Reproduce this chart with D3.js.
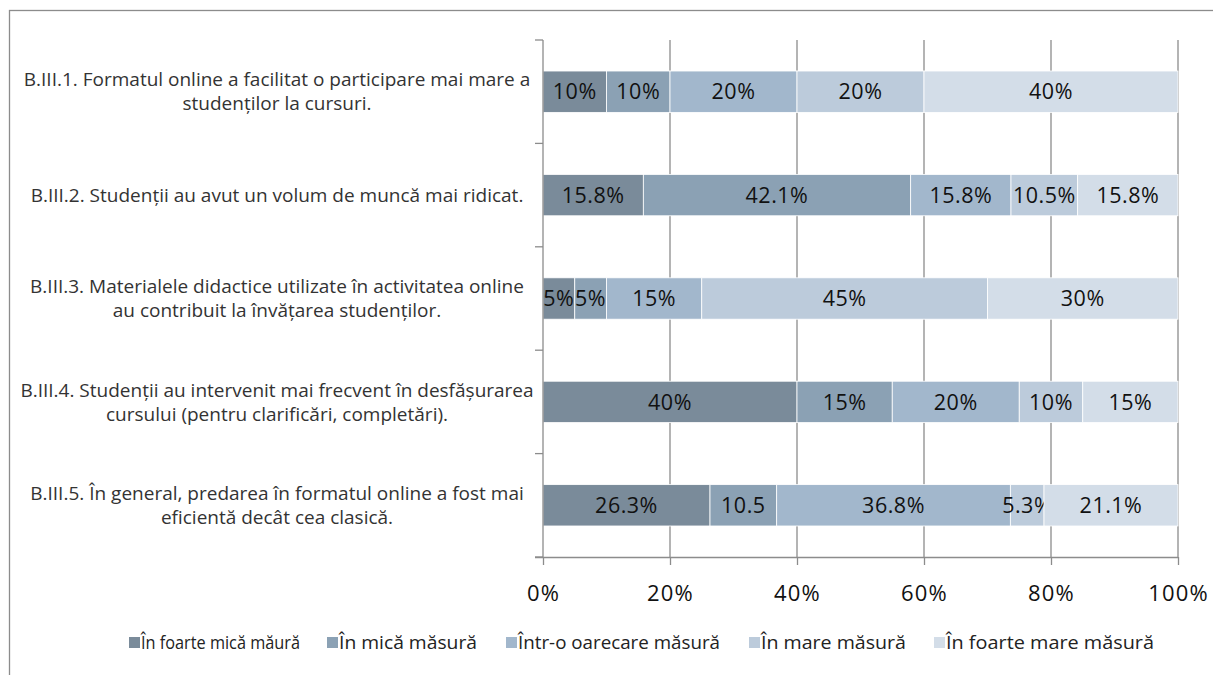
<!DOCTYPE html>
<html>
<head>
<meta charset="utf-8">
<script src="https://cdn.jsdelivr.net/npm/d3@7"></script>
<style>
  html, body { margin: 0; padding: 0; background: #fff; }
  svg { display: block; font-family: "Open Sans", Lato, sans-serif; }
</style>
</head>
<body>
<svg id="chart" width="1213" height="675"></svg>
<script>
// Survey statements (line breaks marked with \n)
const categories = [
  "B.III.1. Formatul online a facilitat o participare mai mare a\nstudenților la cursuri.",
  "B.III.2. Studenții au avut un volum de muncă mai ridicat.",
  "B.III.3. Materialele didactice utilizate în activitatea online\nau contribuit la învățarea studenților.",
  "B.III.4. Studenții au intervenit mai frecvent în desfășurarea\ncursului (pentru clarificări, completări).",
  "B.III.5. În general, predarea în formatul online a fost mai\neficientă decât cea clasică."
];

const seriesNames = [
  "În foarte mică măură",
  "În mică măsură",
  "Într-o oarecare măsură",
  "În mare măsură",
  "În foarte mare măsură"
];

// Percent of answers per statement, one array per series
const foarteMica   = [10, 15.8, 5, 40, 26.3];
const mica         = [10, 42.1, 5, 15, 10.5];
const oarecare     = [20, 15.8, 15, 20, 36.8];
const mare         = [20, 10.5, 45, 10, 5.3];
const foarteMare   = [40, 15.8, 30, 15, 21.1];

// Data label texts as printed on the bars
const labelTexts = [
  ["10%", "10%", "20%", "20%", "40%"],
  ["15.8%", "42.1%", "15.8%", "10.5%", "15.8%"],
  ["5%", "5%", "15%", "45%", "30%"],
  ["40%", "15%", "20%", "10%", "15%"],
  ["26.3%", "10.5", "36.8%", "5.3%", "21.1%"]
];

const xTicks = [0, 20, 40, 60, 80, 100];
const xTickLabels = ["0%", "20%", "40%", "60%", "80%", "100%"];

const colors = ["#7a8b9a", "#8ba1b4", "#a2b7cc", "#bccbdb", "#d3dde8"];

const seriesValues = [foarteMica, mica, oarecare, mare, foarteMare];
const rows = categories.map((c, i) => {
  const r = { key: i };
  seriesNames.forEach((s, j) => r[s] = seriesValues[j][i]);
  return r;
});

const svg = d3.select("#chart");
const plot = { left: 543, right: 1178, top: 40, bottom: 557 };

// outer frame
svg.append("rect")
  .attr("x", 9.5).attr("y", 10.5)
  .attr("width", 1230).attr("height", 700)
  .attr("fill", "none").attr("stroke", "#8c8c8c").attr("stroke-width", 1.3);

const x = d3.scaleLinear().domain([0, 100]).range([plot.left, plot.right]);
const y = d3.scaleBand().domain(d3.range(categories.length))
  .range([plot.top, plot.bottom]).paddingInner(0.6).paddingOuter(0.3);

// vertical gridlines
svg.append("g").selectAll("line")
  .data(xTicks.slice(1))
  .join("line")
  .attr("x1", d => x(d)).attr("x2", d => x(d))
  .attr("y1", plot.top).attr("y2", plot.bottom)
  .attr("stroke", "#8c8c8c").attr("stroke-width", 1.3);

// stacked bars
const stack = d3.stack().keys(seriesNames)(rows);
const layers = svg.append("g").selectAll("g")
  .data(stack).join("g")
  .attr("fill", (d, i) => colors[i]);

layers.selectAll("rect")
  .data(d => d)
  .join("rect")
  .attr("x", d => x(d[0]))
  .attr("width", d => x(d[1]) - x(d[0]))
  .attr("y", (d, i) => y(i))
  .attr("height", y.bandwidth())
  .attr("stroke", "#fff").attr("stroke-width", 0.8);

// data labels
layers.each(function (layer, j) {
  d3.select(this).selectAll("text")
    .data(layer)
    .join("text")
    .attr("x", d => (x(d[0]) + x(d[1])) / 2)
    .attr("y", (d, i) => y(i) + y.bandwidth() / 2)
    .attr("dy", "0.36em")
    .attr("text-anchor", "middle")
    .attr("fill", "#111")
    .attr("font-size", 21.5)
    .attr("letter-spacing", 0.5)
    .text((d, i) => labelTexts[i][j]);
});

// y axis with category boundary ticks
const yAxis = svg.append("g");
yAxis.append("line")
  .attr("x1", plot.left).attr("x2", plot.left)
  .attr("y1", plot.top).attr("y2", plot.bottom)
  .attr("stroke", "#8c8c8c").attr("stroke-width", 1.3);
const step = (plot.bottom - plot.top) / categories.length;
yAxis.selectAll("line.tick")
  .data(d3.range(categories.length + 1))
  .join("line").attr("class", "tick")
  .attr("x1", plot.left - 8).attr("x2", plot.left)
  .attr("y1", d => plot.top + d * step).attr("y2", d => plot.top + d * step)
  .attr("stroke", "#8c8c8c").attr("stroke-width", 1.3);

// category labels
const catG = svg.append("g")
  .attr("font-size", 19).attr("fill", "#333").attr("text-anchor", "middle");
categories.forEach((c, i) => {
  const lines = c.split("\n");
  const cy = y(i) + y.bandwidth() / 2;
  const t = catG.append("text").attr("x", 277).attr("y", cy);
  lines.forEach((ln, k) => {
    t.append("tspan")
      .attr("x", 277)
      .attr("y", cy + (k - (lines.length - 1) / 2) * 24)
      .attr("dy", "0.35em")
      .text(ln);
  });
});

// x axis
const xAxis = d3.axisBottom(x)
  .tickValues(xTicks)
  .tickFormat((d, i) => xTickLabels[i])
  .tickSize(8).tickSizeOuter(0).tickPadding(20);
const xg = svg.append("g")
  .attr("transform", `translate(0,${plot.bottom})`)
  .call(xAxis);
xg.select(".domain").attr("stroke", "#8c8c8c").attr("stroke-width", 1.3)
  .attr("d", `M${plot.left - 8},0.5H${plot.right}`);
xg.selectAll(".tick line").attr("stroke", "#8c8c8c").attr("stroke-width", 1.3);
xg.selectAll(".tick text")
  .attr("font-size", 22).attr("fill", "#111")
  .attr("letter-spacing", 1.2)
  .attr("font-family", "'Open Sans', Lato, sans-serif");

// legend: swatch positions and text run widths
const legendX = [129, 327, 506, 749, 934];
const legendTextWidth = [159, 138, 202, 145, 208];
const lg = svg.append("g");
seriesNames.forEach((s, i) => {
  lg.append("rect")
    .attr("x", legendX[i]).attr("y", 637)
    .attr("width", 11).attr("height", 11)
    .attr("fill", colors[i]);
  lg.append("text")
    .attr("x", legendX[i] + 12).attr("y", 642)
    .attr("dy", "0.37em")
    .attr("font-size", 18).attr("fill", "#222")
    .attr("textLength", legendTextWidth[i])
    .attr("lengthAdjust", "spacingAndGlyphs")
    .text(s);
});
</script>
</body>
</html>
